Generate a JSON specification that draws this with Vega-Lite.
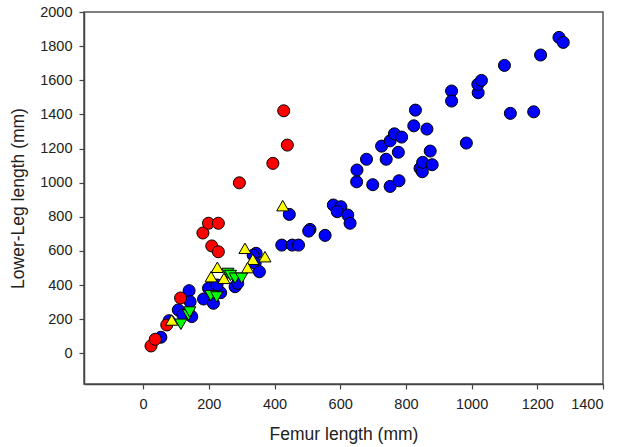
{
  "$schema": "https://vega.github.io/schema/vega-lite/v6.json",
  "width": 519,
  "height": 372,
  "autosize": {"type": "none"},
  "padding": {"left": 84, "top": 12, "right": 16, "bottom": 63},
  "background": "white",
  "config": {
    "view": {"stroke": "#555555", "strokeWidth": 1.5},
    "font": "Liberation Sans",
    "axis": {
      "grid": false,
      "domainColor": "#444444",
      "domainWidth": 1.5,
      "tickColor": "#444444",
      "tickSize": 5,
      "tickWidth": 1.2,
      "labelFont": "Liberation Sans",
      "labelFontSize": 14.5,
      "labelColor": "#222222",
      "titleFont": "Liberation Sans",
      "titleFontSize": 17.5,
      "titleFontWeight": "normal",
      "titleColor": "#222222",
      "format": "d"
    }
  },
  "data": {
    "values": [
      {"g": "blue", "femur": 54, "leg": 94},
      {"g": "blue", "femur": 79, "leg": 191},
      {"g": "blue", "femur": 107, "leg": 254},
      {"g": "blue", "femur": 121, "leg": 224},
      {"g": "blue", "femur": 140, "leg": 367},
      {"g": "blue", "femur": 143, "leg": 302},
      {"g": "blue", "femur": 148, "leg": 215},
      {"g": "blue", "femur": 184, "leg": 318},
      {"g": "blue", "femur": 199, "leg": 381},
      {"g": "blue", "femur": 214, "leg": 293},
      {"g": "blue", "femur": 236, "leg": 355},
      {"g": "blue", "femur": 225, "leg": 400},
      {"g": "blue", "femur": 280, "leg": 390},
      {"g": "blue", "femur": 288, "leg": 410},
      {"g": "blue", "femur": 344, "leg": 586},
      {"g": "blue", "femur": 335, "leg": 575},
      {"g": "blue", "femur": 341, "leg": 527},
      {"g": "blue", "femur": 354, "leg": 478},
      {"g": "blue", "femur": 422, "leg": 634},
      {"g": "blue", "femur": 454, "leg": 634},
      {"g": "blue", "femur": 473, "leg": 634},
      {"g": "blue", "femur": 445, "leg": 814},
      {"g": "blue", "femur": 508, "leg": 726},
      {"g": "blue", "femur": 504, "leg": 716},
      {"g": "blue", "femur": 554, "leg": 691},
      {"g": "blue", "femur": 579, "leg": 869},
      {"g": "blue", "femur": 602, "leg": 859},
      {"g": "blue", "femur": 591, "leg": 830},
      {"g": "blue", "femur": 623, "leg": 810},
      {"g": "blue", "femur": 630, "leg": 762},
      {"g": "blue", "femur": 650, "leg": 1005},
      {"g": "blue", "femur": 651, "leg": 1074},
      {"g": "blue", "femur": 680, "leg": 1137},
      {"g": "blue", "femur": 699, "leg": 988},
      {"g": "blue", "femur": 752, "leg": 978},
      {"g": "blue", "femur": 779, "leg": 1011},
      {"g": "blue", "femur": 726, "leg": 1214},
      {"g": "blue", "femur": 752, "leg": 1245},
      {"g": "blue", "femur": 765, "leg": 1286},
      {"g": "blue", "femur": 787, "leg": 1267},
      {"g": "blue", "femur": 740, "leg": 1137},
      {"g": "blue", "femur": 777, "leg": 1178},
      {"g": "blue", "femur": 824, "leg": 1333},
      {"g": "blue", "femur": 864, "leg": 1314},
      {"g": "blue", "femur": 829, "leg": 1425},
      {"g": "blue", "femur": 843, "leg": 1084},
      {"g": "blue", "femur": 850, "leg": 1064},
      {"g": "blue", "femur": 851, "leg": 1119},
      {"g": "blue", "femur": 874, "leg": 1185},
      {"g": "blue", "femur": 880, "leg": 1105},
      {"g": "blue", "femur": 939, "leg": 1537},
      {"g": "blue", "femur": 939, "leg": 1478},
      {"g": "blue", "femur": 984, "leg": 1232},
      {"g": "blue", "femur": 1020, "leg": 1527},
      {"g": "blue", "femur": 1019, "leg": 1576},
      {"g": "blue", "femur": 1030, "leg": 1599},
      {"g": "blue", "femur": 1100, "leg": 1687},
      {"g": "blue", "femur": 1118, "leg": 1406},
      {"g": "blue", "femur": 1189, "leg": 1415},
      {"g": "blue", "femur": 1210, "leg": 1748},
      {"g": "blue", "femur": 1266, "leg": 1851},
      {"g": "blue", "femur": 1279, "leg": 1822},
      {"g": "red", "femur": 24, "leg": 43},
      {"g": "red", "femur": 37, "leg": 82},
      {"g": "red", "femur": 72, "leg": 166},
      {"g": "red", "femur": 114, "leg": 324},
      {"g": "red", "femur": 182, "leg": 705},
      {"g": "red", "femur": 199, "leg": 762},
      {"g": "red", "femur": 229, "leg": 762},
      {"g": "red", "femur": 209, "leg": 629},
      {"g": "red", "femur": 229, "leg": 595},
      {"g": "red", "femur": 293, "leg": 999},
      {"g": "red", "femur": 395, "leg": 1113},
      {"g": "red", "femur": 428, "leg": 1421},
      {"g": "red", "femur": 439, "leg": 1220},
      {"g": "green", "femur": 115, "leg": 170},
      {"g": "green", "femur": 138, "leg": 224},
      {"g": "green", "femur": 142, "leg": 242},
      {"g": "green", "femur": 206, "leg": 338},
      {"g": "green", "femur": 224, "leg": 330},
      {"g": "green", "femur": 258, "leg": 468},
      {"g": "green", "femur": 266, "leg": 456},
      {"g": "green", "femur": 280, "leg": 440},
      {"g": "green", "femur": 300, "leg": 440},
      {"g": "yellow", "femur": 87, "leg": 195},
      {"g": "yellow", "femur": 207, "leg": 449},
      {"g": "yellow", "femur": 226, "leg": 504},
      {"g": "yellow", "femur": 246, "leg": 439},
      {"g": "yellow", "femur": 310, "leg": 615},
      {"g": "yellow", "femur": 334, "leg": 551},
      {"g": "yellow", "femur": 371, "leg": 566},
      {"g": "yellow", "femur": 318, "leg": 502},
      {"g": "yellow", "femur": 425, "leg": 865}
    ]
  },
  "mark": {"type": "point", "filled": true, "stroke": "black", "strokeWidth": 1, "opacity": 1},
  "encoding": {
    "x": {
      "field": "femur",
      "type": "quantitative",
      "title": "Femur length (mm)",
      "scale": {"domain": [-180, 1400], "nice": false, "zero": false},
      "axis": {"values": [0, 200, 400, 600, 800, 1000, 1200, 1400], "labelPadding": 8, "titlePadding": 15}
    },
    "y": {
      "field": "leg",
      "type": "quantitative",
      "title": "Lower-Leg length (mm)",
      "scale": {"domain": [-180, 2000], "nice": false, "zero": false},
      "axis": {"values": [0, 200, 400, 600, 800, 1000, 1200, 1400, 1600, 1800, 2000], "labelPadding": 7, "titlePadding": 12}
    },
    "color": {
      "field": "g",
      "type": "nominal",
      "scale": {"domain": ["blue", "red", "green", "yellow"], "range": ["#0000FF", "#FF0000", "#00FF00", "#FFFF00"]},
      "legend": null
    },
    "shape": {
      "field": "g",
      "type": "nominal",
      "scale": {"domain": ["blue", "red", "green", "yellow"], "range": ["circle", "circle", "triangle-down", "triangle-up"]},
      "legend": null
    },
    "size": {
      "field": "g",
      "type": "nominal",
      "scale": {"domain": ["blue", "red", "green", "yellow"], "range": [145, 145, 150, 150]},
      "legend": null
    }
  }
}
